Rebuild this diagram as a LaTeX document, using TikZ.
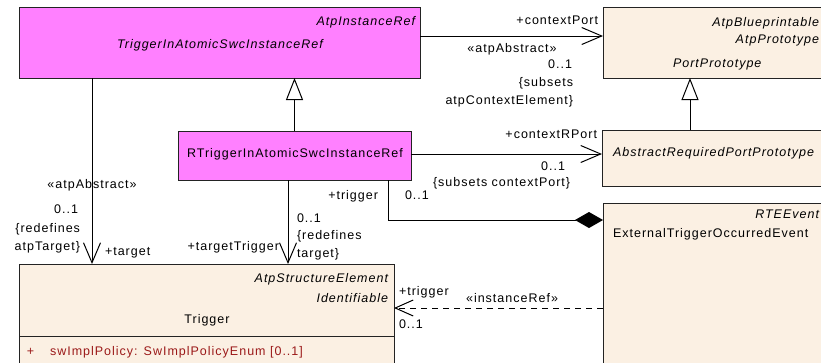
\documentclass[tikz,border=0pt]{standalone}
\usepackage{fontspec}
\setmainfont{Liberation Sans}[LetterSpace=8]
\usetikzlibrary{arrows.meta}
\definecolor{magbox}{RGB}{255,128,255}
\definecolor{beigebox}{RGB}{251,240,227}
\definecolor{attrred}{RGB}{155,25,25}
\definecolor{edgecol}{RGB}{35,35,35}
\tikzset{
  umlbox/.style={draw=edgecol, line width=1pt, anchor=north west, inner sep=0pt, outer sep=0pt},
  lbl/.style={inner sep=0pt, outer sep=0pt, font=\fontsize{12.5}{15}\selectfont, text=black},
  conn/.style={draw=black, line width=1pt},
  assoc/.style={conn, -{Straight Barb[length=20pt,width=17pt]}},
  gen/.style={conn, -{Triangle[length=22pt,width=17pt,fill=white]}},
  comp/.style={conn, -{Diamond[length=28pt,width=16pt]}},
  dep/.style={conn, dash pattern=on 6pt off 5pt, -{Straight Barb[length=18pt,width=16pt]}},
}
\begin{document}
\begin{tikzpicture}[x=1pt,y=-1pt]
\useasboundingbox (0,0) rectangle (821,362);
\clip (0,0) rectangle (821,362);
\fill[white] (0,0) rectangle (821,362);

% boxes
\node[umlbox, fill=magbox, minimum width=401pt, minimum height=71pt] (A) at (19,7) {};
\node[umlbox, fill=beigebox, minimum width=227pt, minimum height=71pt] (P) at (603,7) {};
\node[umlbox, fill=magbox, minimum width=233pt, minimum height=49pt] (R) at (178,131) {};
\node[umlbox, fill=beigebox, minimum width=228pt, minimum height=56pt] (ARP) at (602,130) {};
\node[umlbox, fill=beigebox, minimum width=227pt, minimum height=167pt] (E) at (603,203) {};
\node[umlbox, fill=beigebox, minimum width=375pt, minimum height=106pt] (T) at (19,264) {};
\draw[draw=edgecol, line width=1pt] (T.west |- 0,336) coordinate (Tsepl) -- (T.east |- 0,336) coordinate (Tsepr);

% box texts
\node[lbl, anchor=base east] (tA1) at (415,25) {\itshape AtpInstanceRef};
\node[lbl, anchor=base] (tA2) at (220,48) {\itshape TriggerInAtomicSwcInstanceRef};
\node[lbl, anchor=base east] (tP1) at (819,26) {\itshape AtpBlueprintable};
\node[lbl, anchor=base east] (tP2) at (819,43) {\itshape AtpPrototype};
\node[lbl, anchor=base west] (tP3) at (673,67) {\itshape PortPrototype};
\node[lbl, anchor=base] (tR) at (295,157) {RTriggerInAtomicSwcInstanceRef};
\node[lbl, anchor=base west] (tARP) at (613,156) {\itshape AbstractRequiredPortPrototype};
\node[lbl, anchor=base east] (tE1) at (819,218) {\itshape RTEEvent};
\node[lbl, anchor=base west] (tE2) at (613,237) {ExternalTriggerOccurredEvent};
\node[lbl, anchor=base east] (tT1) at (388,282) {\itshape AtpStructureElement};
\node[lbl, anchor=base east] (tT2) at (388,302) {\itshape Identifiable};
\node[lbl, anchor=base] (tT3) at (207,323) {Trigger};
\node[lbl, anchor=base west, text=attrred] (tT4) at (27,355) {+};
\node[lbl, anchor=base west, text=attrred] (tT5) at (50,355) {swImplPolicy: SwImplPolicyEnum [0..1]};

% connectors
\draw[assoc] ([yshift=6.5pt]A.east) -- ([yshift=6.5pt]P.west);
\draw[gen] (R.north) -- (R.north |- A.south);
\draw[gen] ([xshift=-26pt]ARP.north) -- ([xshift=-26pt]ARP.north |- P.south);
\draw[assoc] ([yshift=1.5pt]R.east) -- ([yshift=1.5pt]R.east -| ARP.west);
\draw[assoc] ([xshift=73pt]A.south west) -- ([xshift=73pt]A.south west |- T.north);
\draw[assoc] ([xshift=-6.5pt]R.south) -- ([xshift=-6.5pt]R.south |- T.north);
\draw[comp] ([xshift=93.5pt]R.south) |- ([yshift=66.5pt]E.west);
\draw[dep] ([yshift=-21.5pt]E.west) -- ([yshift=-21.5pt]E.west -| T.east);

% connector labels
\node[lbl, anchor=base east] (l1) at (598,24) {+contextPort};
\node[lbl, anchor=base] (l2) at (512,52) {«atpAbstract»};
\node[lbl, anchor=base east] (l3) at (572,68) {0..1};
\node[lbl, anchor=base east] (l4) at (573,86) {\{subsets};
\node[lbl, anchor=base east] (l5) at (573,104) {atpContextElement\}};

\node[lbl, anchor=base east] (l6) at (597,138) {+contextRPort};
\node[lbl, anchor=base east] (l7) at (565,170) {0..1};
\node[lbl, anchor=base west] (l8) at (433,186) {\{subsets contextPort\}};
\node[lbl, anchor=base west] (l9) at (405,199) {0..1};
\node[lbl, anchor=base east] (l10) at (378,199) {+trigger};

\node[lbl, anchor=base] (l11) at (92,188) {«atpAbstract»};
\node[lbl, anchor=base east] (l12) at (78,213) {0..1};
\node[lbl, anchor=base east] (l13) at (80,232) {\{redefines};
\node[lbl, anchor=base east] (l14) at (80,250) {atpTarget\}};
\node[lbl, anchor=base west] (l15) at (105,255) {+target};

\node[lbl, anchor=base east] (l16) at (279,250) {+targetTrigger};
\node[lbl, anchor=base west] (l17) at (297,222) {0..1};
\node[lbl, anchor=base west] (l18) at (297,239) {\{redefines};
\node[lbl, anchor=base west] (l19) at (297,257) {target\}};

\node[lbl, anchor=base west] (l20) at (399,295) {+trigger};
\node[lbl, anchor=base] (l21) at (512,302) {«instanceRef»};
\node[lbl, anchor=base west] (l22) at (399,328) {0..1};
\end{tikzpicture}
\end{document}
